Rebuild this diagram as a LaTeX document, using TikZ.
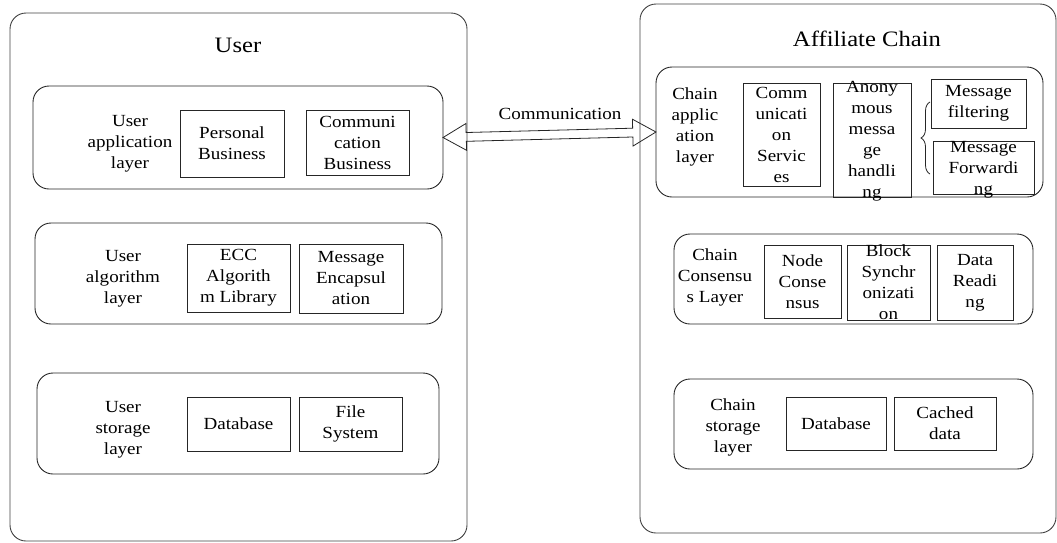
\documentclass[tikz,border=0pt]{standalone}
\usepackage{fontspec}
\setmainfont{Liberation Serif}[FakeStretch=1.12]
\usetikzlibrary{shapes.arrows,decorations.pathreplacing}
\begin{document}
\begin{tikzpicture}[x=1pt,y=-1pt,
  every node/.style={font=\fontsize{17}{21}\selectfont, align=center, inner sep=0pt},
  outerbox/.style={draw=black!75, line width=0.9pt, rounded corners=16pt, rectangle},
  layerbox/.style={draw=black!85, line width=0.9pt, rounded corners=16pt, rectangle},
  itembox/.style={draw=black!85, line width=0.8pt, rectangle},
  title/.style={font=\fontsize{22}{26}\selectfont},
]
\useasboundingbox (0,0) rectangle (1057,542);

% outer containers
\node[outerbox, minimum width=457pt, minimum height=528pt] (user) at (238.5,277) {};
\node[outerbox, minimum width=416pt, minimum height=529pt] (chain) at (848,268.5) {};
\node[title] (usert) at (238,45) {User};
\node[title] (chaint) at (867,38.5) {Affiliate Chain};

% user layers
\node[layerbox, minimum width=410pt, minimum height=103pt] (uapp) at (238,137.5) {};
\node[layerbox, minimum width=407pt, minimum height=101pt] (ualg) at (238.5,273.5) {};
\node[layerbox, minimum width=402pt, minimum height=101pt] (usto) at (238,423.5) {};

\node (uappt) at (130,144) {User\\application\\layer};
\node (ualgt) at (123,279) {User\\algorithm\\layer};
\node (ustot) at (123,430) {User\\storage\\layer};

\node[itembox, minimum width=104pt, minimum height=67pt] (pb) at (232,143.5) {Personal\\Business};
\node[itembox, minimum width=103pt, minimum height=65pt] (cb) at (357.5,142.5) {Communi\\cation\\Business};
\node[itembox, minimum width=103pt, minimum height=68pt] (ecc) at (238.5,278) {ECC\\Algorith\\m Library};
\node[itembox, minimum width=104pt, minimum height=69pt] (menc) at (351,278.5) {Message\\Encapsul\\ation};
\node[itembox, minimum width=103pt, minimum height=54pt] (udb) at (238.5,424) {Database};
\node[itembox, minimum width=103pt, minimum height=54pt] (ufs) at (350.5,424) {File\\System};

% chain layers
\node[layerbox, minimum width=387pt, minimum height=130pt] (capp) at (849.5,132) {};
\node[layerbox, minimum width=359pt, minimum height=90pt] (ccon) at (853.5,279) {};
\node[layerbox, minimum width=359pt, minimum height=90pt] (csto) at (853.5,424) {};

\node (cappt) at (695,127) {Chain\\applic\\ation\\layer};
\node (ccont) at (715,277) {Chain\\Consensu\\s Layer};
\node (cstot) at (733,427) {Chain\\storage\\layer};

\node[itembox, minimum width=77pt, minimum height=103pt] (cs) at (781.5,134.5) {Comm\\unicati\\on\\Servic\\es};
\node[itembox, minimum width=78pt, minimum height=114pt] (amh) at (872,140) {};
\node (amht) at (872,141) {Anony\\mous\\messa\\ge\\handli\\ng};
\node[itembox, minimum width=95pt, minimum height=49pt] (mf) at (978.5,103.5) {Message\\filtering};
\node[itembox, minimum width=101pt, minimum height=53pt] (mfw) at (983.5,167.5) {};
\node (mfwt) at (983.5,170) {Message\\Forwardi\\ng};

\node[itembox, minimum width=77pt, minimum height=73pt] (nc) at (802.5,281.5) {Node\\Conse\\nsus};
\node[itembox, minimum width=83pt, minimum height=75pt] (bs) at (888.5,282.5) {};
\node (bst) at (888.5,282.5) {Block\\Synchr\\onizati\\on};
\node[itembox, minimum width=76pt, minimum height=75pt] (dr) at (975,282.5) {Data\\Readi\\ng};

\node[itembox, minimum width=100pt, minimum height=53pt] (cdb) at (836,423.5) {Database};
\node[itembox, minimum width=102pt, minimum height=53pt] (ccd) at (945,423.5) {Cached\\data};

% brace
\coordinate (brb) at (930,174);
\coordinate (brt) at (930,102);
\draw[black!85, line width=0.8pt, decorate, decoration={brace, amplitude=9pt}] (brb) -- (brt);

% communication arrow
\path (uapp.east) -- (capp.west)
  node[midway, sloped, draw=black!85, line width=0.8pt, double arrow,
       double arrow head extend=9pt, double arrow tip angle=60,
       minimum height=213pt, inner xsep=0pt, inner ysep=4pt] (comm) {};
\node (commlbl) at (560,114) {Communication};
\end{tikzpicture}
\end{document}
